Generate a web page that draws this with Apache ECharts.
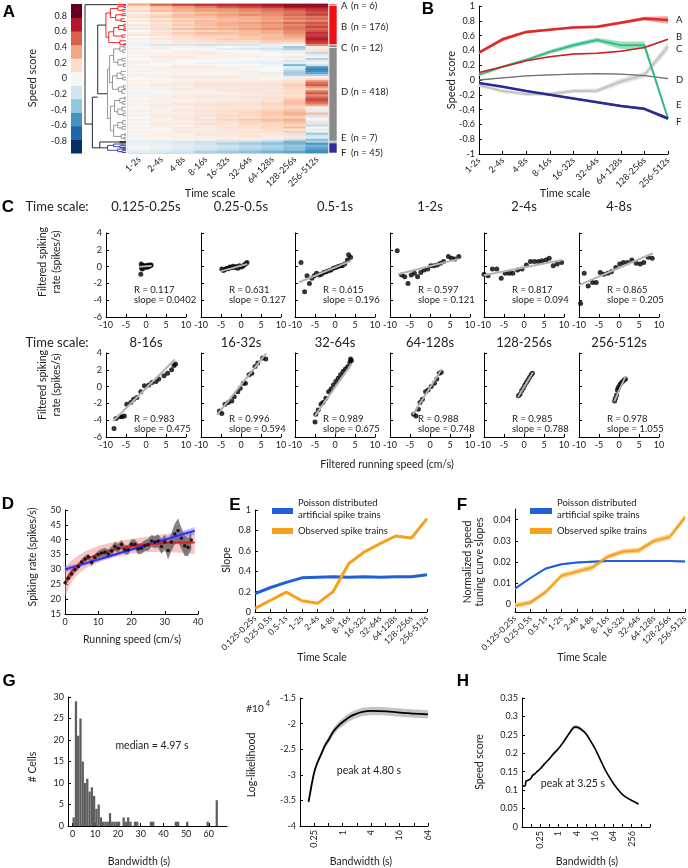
<!DOCTYPE html>
<html>
<head>
<meta charset="utf-8">
<script src="https://cdn.jsdelivr.net/npm/echarts@6/dist/echarts.min.js"></script>
<style>
html, body { margin: 0; padding: 0; background: #fff; }
#main { width: 688px; height: 868px; }
</style>
</head>
<body>
<div id="main"></div>
<script>
const FONT = 'Lato';

// ---------- data: panel A ----------
const timeScales9 = ['1-2s', '2-4s', '4-8s', '8-16s', '16-32s', '32-64s', '64-128s', '128-256s', '256-512s'];
const clusterNames = ['A', 'B', 'C', 'D', 'E', 'F'];
const clusterSizes = [6, 176, 12, 418, 7, 45];
const clusterColors = ['#ee1111', '#ee1111', '#8a8a8a', '#8a8a8a', '#22936a', '#2b2b9c'];
const cbColors = ['#053061', '#2166ac', '#4393c3', '#92c5de', '#d1e5f0', '#f7f7f7', '#fddbc7', '#f4a582', '#d6604d', '#b2182b', '#67001f'];
const cbTicks = [-0.8, -0.6, -0.4, -0.2, 0, 0.2, 0.4, 0.6, 0.8];
// heatmap rows (top to bottom), speed score per time scale
const heatValues = [
  [0.35, 0.55, 0.65, 0.7, 0.72, 0.75, 0.8, 0.85, 0.85],
  [0.15, 0.3, 0.4, 0.5, 0.6, 0.65, 0.7, 0.8, 0.8],
  [0.1, 0.25, 0.35, 0.4, 0.45, 0.5, 0.55, 0.65, 0.7],
  [0.2, 0.3, 0.35, 0.4, 0.4, 0.45, 0.5, 0.55, 0.65],
  [0.05, 0.15, 0.25, 0.3, 0.35, 0.4, 0.45, 0.5, 0.6],
  [0.1, 0.2, 0.3, 0.35, 0.4, 0.45, 0.45, 0.55, 0.65],
  [0.15, 0.25, 0.3, 0.3, 0.35, 0.35, 0.4, 0.45, 0.5],
  [0.05, 0.1, 0.2, 0.25, 0.3, 0.35, 0.4, 0.5, 0.55],
  [0.1, 0.2, 0.25, 0.3, 0.3, 0.3, 0.35, 0.4, 0.45],
  [0.0, 0.1, 0.2, 0.3, 0.35, 0.4, 0.45, 0.55, 0.6],
  [0.1, 0.15, 0.25, 0.3, 0.35, 0.35, 0.4, 0.45, 0.55],
  [0.05, 0.15, 0.2, 0.25, 0.3, 0.35, 0.4, 0.5, 0.65],
  [0.1, 0.2, 0.3, 0.35, 0.35, 0.4, 0.45, 0.5, 0.55],
  [0.0, 0.1, 0.15, 0.2, 0.25, 0.3, 0.35, 0.45, 0.6],
  [0.05, 0.15, 0.25, 0.3, 0.3, 0.3, 0.35, 0.45, 0.7],
  [0.1, 0.15, 0.2, 0.25, 0.25, 0.3, 0.3, 0.4, 0.65],
  [0.0, 0.05, 0.15, 0.2, 0.2, 0.25, 0.3, 0.35, 0.7],
  [0.05, 0.1, 0.15, 0.2, 0.25, 0.25, 0.3, 0.3, 0.75],
  [0.0, 0.05, 0.1, 0.15, 0.2, 0.2, 0.25, 0.25, 0.7],
  [0.05, 0.05, 0.1, 0.1, 0.15, 0.15, 0.2, 0.15, 0.65],
  [-0.05, -0.15, -0.15, -0.2, -0.15, -0.15, -0.05, 0.05, 0.45],
  [0.0, 0.05, 0.05, 0.05, 0.0, -0.05, -0.1, -0.35, 0.05],
  [0.05, 0.05, 0.0, 0.0, -0.1, -0.15, -0.2, -0.3, 0.1],
  [0.0, 0.0, 0.05, 0.05, 0.0, 0.0, -0.05, -0.1, 0.15],
  [0.05, 0.05, 0.05, 0.1, 0.05, 0.0, 0.0, 0.05, -0.25],
  [0.0, 0.05, 0.05, 0.05, 0.05, 0.05, 0.0, 0.0, -0.1],
  [0.05, 0.1, 0.1, 0.05, 0.05, 0.05, 0.05, 0.1, 0.05],
  [0.0, 0.05, 0.05, 0.05, 0.0, 0.0, 0.0, -0.05, -0.3],
  [0.05, 0.05, 0.0, 0.0, 0.0, -0.05, -0.05, -0.15, -0.1],
  [-0.05, 0.0, 0.0, -0.05, -0.05, -0.05, -0.1, -0.1, 0.05],
  [0.0, 0.0, 0.05, 0.05, 0.0, 0.0, -0.05, -0.45, -0.2],
  [0.05, 0.05, 0.1, 0.1, 0.05, 0.05, 0.0, -0.1, -0.55],
  [0.0, 0.05, 0.05, 0.05, 0.05, 0.0, 0.0, -0.2, -0.65],
  [0.05, 0.05, 0.05, 0.05, 0.05, 0.05, 0.0, -0.3, -0.6],
  [0.0, 0.0, 0.05, 0.0, 0.0, -0.05, -0.1, -0.35, -0.5],
  [0.05, 0.05, 0.05, 0.05, 0.05, 0.05, 0.05, -0.3, -0.3],
  [0.0, 0.05, 0.1, 0.1, 0.1, 0.05, 0.05, -0.05, 0.05],
  [0.0, 0.0, 0.05, 0.05, 0.05, 0.05, 0.0, 0.1, 0.2],
  [0.05, 0.05, 0.05, 0.1, 0.1, 0.1, 0.1, 0.15, 0.45],
  [0.0, 0.05, 0.1, 0.1, 0.1, 0.1, 0.15, 0.2, 0.55],
  [0.05, 0.1, 0.1, 0.15, 0.15, 0.15, 0.15, 0.25, 0.6],
  [0.0, 0.05, 0.05, 0.1, 0.1, 0.1, 0.1, 0.2, 0.4],
  [0.05, 0.05, 0.1, 0.1, 0.1, 0.15, 0.15, 0.2, 0.25],
  [0.0, 0.0, 0.05, 0.05, 0.1, 0.1, 0.1, 0.15, 0.5],
  [-0.05, 0.0, 0.05, 0.05, 0.05, 0.1, 0.15, 0.2, 0.6],
  [0.0, 0.05, 0.05, 0.1, 0.1, 0.1, 0.1, 0.15, 0.45],
  [0.05, 0.05, 0.1, 0.1, 0.1, 0.15, 0.15, 0.2, 0.55],
  [0.0, 0.05, 0.05, 0.05, 0.1, 0.1, 0.15, 0.25, 0.65],
  [0.05, 0.05, 0.05, 0.1, 0.1, 0.1, 0.15, 0.3, 0.6],
  [0.0, 0.05, 0.1, 0.1, 0.15, 0.15, 0.2, 0.3, 0.5],
  [0.05, 0.1, 0.1, 0.15, 0.15, 0.15, 0.2, 0.25, 0.35],
  [0.0, 0.05, 0.05, 0.1, 0.1, 0.1, 0.15, 0.2, 0.05],
  [0.05, 0.05, 0.1, 0.1, 0.15, 0.15, 0.2, 0.25, -0.1],
  [0.05, 0.05, 0.1, 0.15, 0.15, 0.2, 0.25, 0.3, 0.1],
  [0.0, 0.05, 0.05, 0.1, 0.15, 0.2, 0.25, 0.35, 0.3],
  [0.05, 0.1, 0.1, 0.15, 0.2, 0.2, 0.25, 0.3, -0.2],
  [0.0, 0.05, 0.1, 0.1, 0.15, 0.15, 0.2, 0.2, 0.1],
  [0.05, 0.05, 0.1, 0.15, 0.2, 0.25, 0.3, 0.35, 0.0],
  [0.0, 0.05, 0.05, 0.1, 0.15, 0.2, 0.25, 0.3, -0.15],
  [0.05, 0.1, 0.1, 0.15, 0.15, 0.2, 0.2, 0.25, 0.15],
  [0.0, 0.05, 0.05, 0.1, 0.1, 0.15, 0.2, 0.2, -0.25],
  [0.05, 0.05, 0.1, 0.1, 0.15, 0.15, 0.2, 0.3, 0.0],
  [0.0, 0.0, 0.05, 0.05, 0.1, 0.1, 0.15, 0.1, -0.1],
  [0.05, 0.05, 0.1, 0.1, 0.1, 0.15, 0.15, 0.25, 0.05],
  [0.0, 0.05, 0.05, 0.1, 0.1, 0.1, 0.1, -0.15, -0.35],
  [0.05, 0.05, 0.05, 0.1, 0.1, 0.15, 0.1, 0.15, -0.2],
  [0.0, 0.0, 0.05, 0.05, 0.05, 0.1, 0.05, 0.1, -0.1],
  [0.0, 0.05, 0.05, 0.05, 0.1, 0.05, -0.1, -0.2, -0.4],
  [-0.1, -0.1, -0.15, -0.2, -0.2, -0.25, -0.3, -0.45, -0.3],
  [-0.05, -0.1, -0.15, -0.2, -0.3, -0.35, -0.4, -0.45, -0.55],
  [-0.05, -0.05, -0.1, -0.15, -0.2, -0.25, -0.3, -0.35, -0.45],
  [0.0, -0.05, -0.1, -0.15, -0.2, -0.25, -0.3, -0.4, -0.5],
  [-0.05, -0.1, -0.15, -0.2, -0.25, -0.3, -0.35, -0.4, -0.55],
  [-0.1, -0.15, -0.2, -0.3, -0.35, -0.4, -0.45, -0.5, -0.6]
];
// dendrogram links: [rowTop, distTop, rowBottom, distBottom, distNode, colour]
const dendroLinks = [
  [3, 0.2, 535, 0.82, 1.0, 'k'], [415, 0.69, 641, 0.64, 0.82, 'k'],
  [94, 0.49, 400, 0.45, 0.69, 'k'], [615, 0.15, 641, 0.45, 0.64, 'k'], [612.5, 0, 617.5, 0, 0.15, 'k'],
  [1.5, 0, 4.5, 0, 0.2, 'r'],
  [40, 0.38, 148, 0.42, 0.49, 'r'], [20, 0.2, 60, 0.25, 0.38, 'r'], [124, 0.3, 172, 0.15, 0.42, 'r'],
  [12, 0.05, 28, 0.08, 0.2, 'r'], [48, 0.1, 72, 0.12, 0.25, 'r'], [105, 0.18, 143, 0.1, 0.3, 'r'],
  [164, 0, 180, 0.04, 0.15, 'r'], [8, 0, 16, 0, 0.05, 'r'], [24, 0, 32, 0.02, 0.08, 'r'],
  [44, 0, 52, 0, 0.1, 'r'], [66, 0.03, 78, 0, 0.12, 'r'], [96, 0.05, 114, 0.06, 0.18, 'r'],
  [138, 0, 148, 0.02, 0.1, 'r'], [90, 0, 102, 0, 0.05, 'r'], [110, 0, 118, 0, 0.06, 'r'], [177, 0, 181, 0, 0.04, 'r'],
  [290, 0.4, 510, 0.38, 0.45, 'g'], [230, 0.3, 350, 0.33, 0.4, 'g'], [455, 0.28, 565, 0.3, 0.38, 'g'],
  [200, 0.15, 260, 0.2, 0.3, 'g'], [320, 0.22, 380, 0.18, 0.33, 'g'], [430, 0.15, 480, 0.2, 0.28, 'g'],
  [540, 0.2, 590, 0.12, 0.3, 'g'], [190, 0.05, 210, 0.08, 0.15, 'g'], [248, 0.1, 272, 0.06, 0.2, 'g'],
  [308, 0.12, 332, 0.08, 0.22, 'g'], [370, 0.06, 390, 0.1, 0.18, 'g'], [420, 0.04, 440, 0.08, 0.15, 'g'],
  [468, 0.1, 492, 0.07, 0.2, 'g'], [528, 0.08, 552, 0.1, 0.2, 'g'], [582, 0.03, 598, 0.05, 0.12, 'g'],
  [184, 0, 196, 0, 0.05, 'g'], [204, 0, 216, 0.02, 0.08, 'g'], [242, 0, 254, 0, 0.1, 'g'], [266, 0, 278, 0, 0.06, 'g'],
  [300, 0, 316, 0.03, 0.12, 'g'], [326, 0, 338, 0, 0.08, 'g'], [364, 0, 376, 0, 0.06, 'g'], [382, 0, 398, 0.02, 0.1, 'g'],
  [416, 0, 424, 0, 0.04, 'g'], [434, 0, 446, 0, 0.08, 'g'], [460, 0, 476, 0, 0.1, 'g'], [486, 0, 498, 0, 0.07, 'g'],
  [520, 0, 536, 0, 0.08, 'g'], [546, 0, 558, 0, 0.1, 'g'], [578, 0, 586, 0, 0.03, 'g'], [594, 0, 602, 0, 0.05, 'g'],
  [630, 0.3, 652, 0.2, 0.45, 'b'], [624, 0.1, 636, 0.15, 0.3, 'b'], [646, 0.08, 658, 0.1, 0.2, 'b'],
  [620, 0, 628, 0, 0.1, 'b'], [632, 0, 640, 0, 0.15, 'b'], [643, 0, 649, 0, 0.08, 'b'], [654, 0, 662, 0, 0.1, 'b']
];
const dendroColors = { k: '#111', r: '#ee1111', g: '#8a8a8a', b: '#2b2b9c' };

// ---------- data: panel B (cluster mean speed scores) ----------
const bMeans = [
  [0.37, 0.55, 0.65, 0.68, 0.71, 0.72, 0.775, 0.83, 0.81],
  [0.10, 0.18, 0.26, 0.315, 0.35, 0.36, 0.39, 0.44, 0.55],
  [-0.07, -0.15, -0.19, -0.19, -0.15, -0.145, -0.02, 0.07, 0.45],
  [0.0, 0.03, 0.055, 0.07, 0.08, 0.085, 0.08, 0.06, 0.02],
  [0.07, 0.18, 0.27, 0.38, 0.47, 0.54, 0.47, 0.47, -0.52],
  [-0.04, -0.09, -0.15, -0.2, -0.25, -0.3, -0.35, -0.39, -0.52]
];
const bErr = [
  [0.02, 0.025, 0.02, 0.015, 0.015, 0.02, 0.02, 0.025, 0.05],
  [0.008, 0.008, 0.008, 0.008, 0.008, 0.008, 0.008, 0.01, 0.012],
  [0.02, 0.025, 0.025, 0.025, 0.03, 0.03, 0.04, 0.04, 0.06],
  [0.005, 0.005, 0.005, 0.005, 0.005, 0.005, 0.005, 0.005, 0.006],
  [0.01, 0.015, 0.02, 0.03, 0.03, 0.03, 0.05, 0.05, 0.03],
  [0.01, 0.01, 0.01, 0.012, 0.012, 0.015, 0.015, 0.02, 0.025]
];
const bLineColors = ['#e02a2a', '#d41c1c', '#c4c4c4', '#707070', '#36bb86', '#2a2a92'];
const bBandColors = ['#f3a3a3', '#f0b0b0', '#e4e4e4', '#bbbbbb', '#9fe0c4', '#8a8ad0'];
const bWidths = [2.5, 1.5, 2, 1.3, 2, 2.5];

// ---------- data: panel C ----------
const cTitles = ['0.125-0.25s', '0.25-0.5s', '0.5-1s', '1-2s', '2-4s', '4-8s',
  '8-16s', '16-32s', '32-64s', '64-128s', '128-256s', '256-512s'];
const cR = ['0.117', '0.631', '0.615', '0.597', '0.817', '0.865', '0.983', '0.996', '0.989', '0.988', '0.985', '0.978'];
const cSlopes = [0.0402, 0.127, 0.196, 0.121, 0.094, 0.205, 0.475, 0.594, 0.675, 0.748, 0.788, 1.055];
const cSlopeText = ['0.0402', '0.127', '0.196', '0.121', '0.094', '0.205', '0.475', '0.594', '0.675', '0.748', '0.788', '1.055'];
const cIntercepts = [0.05, 0.1, -0.1, 0.05, -0.1, -0.15, -0.2, 0.2, -0.1, -0.1, -0.05, -0.5];
const cLineRange = [[-1.5, 1.4], [-5, 1.6], [-9, 4], [-8, 7.2], [-10, 9.5], [-10, 8.5],
  [-8.2, 7.2], [-6, 6.3], [-5, 4.2], [-4.3, 2.9], [-1.5, 2.2], [-1.2, 1.6]];
const cPoints = [
  [[-1.3, -0.9], [-1.2, 0.3], [-1.0, 0.15], [-0.9, -0.3], [-0.7, 0.1], [-0.5, 0.0], [-0.3, 0.1], [-0.1, -0.1], [0.1, 0.05], [0.3, 0.15], [0.5, -0.05], [0.7, 0.0], [0.9, 0.2], [1.1, 0.1], [1.3, 0.2], [-1.1, -0.2]],
  [[-4.8, -0.3], [-4.4, -0.45], [-4.0, -0.35], [-3.6, -0.2], [-3.2, -0.25], [-2.8, -0.05], [-2.4, -0.15], [-2.0, 0.05], [-1.6, -0.1], [-1.2, 0.0], [-0.8, -0.2], [-0.4, 0.1], [0.0, -0.05], [0.4, 0.05], [0.8, 0.2], [1.2, 0.35], [1.5, 0.5]],
  [[-8.5, 0.5], [-7.6, -3.0], [-7.0, -1.1], [-6.4, -2.0], [-5.8, -1.4], [-5.2, -1.1], [-4.6, -0.8], [-4.0, -1.0], [-3.4, -0.9], [-2.8, -0.7], [-2.2, -0.6], [-1.6, -0.5], [-1.0, -0.4], [-0.4, -0.2], [0.2, -0.1], [0.8, 0.0], [1.4, 0.1], [1.8, 0.1], [2.4, 0.3], [3.1, 0.8], [3.4, 1.4], [3.9, 1.1]],
  [[-8.2, 1.9], [-7.1, -1.0], [-6.3, -1.2], [-5.5, -2.0], [-4.7, -1.0], [-3.9, -0.8], [-3.1, -1.2], [-2.3, -0.7], [-1.5, -0.4], [-0.6, -0.3], [0.2, 0.1], [1.0, 0.1], [1.8, 0.2], [2.6, 0.4], [3.4, 0.6], [4.6, 1.2], [5.4, 1.0], [6.2, 0.9], [7.2, 1.2]],
  [[-10, -0.9], [-9, -1.1], [-7.9, -0.3], [-6.8, -0.3], [-5.7, -1.4], [-4.7, -0.8], [-3.7, -0.8], [-2.8, -0.8], [-1.6, -0.4], [-0.5, -0.3], [0.6, 0.2], [1.6, 0.6], [2.6, 0.6], [3.6, 0.6], [4.5, 0.7], [5.5, 0.8], [6.3, 1.0], [7.3, 0.1], [8.3, 0.3], [9.4, 0.5]],
  [[-9.6, -4.4], [-8.7, -0.8], [-7.7, -2.3], [-6.6, -1.9], [-5.7, -1.9], [-4.7, -0.7], [-3.8, -0.9], [-2.8, -0.8], [-1.9, -0.6], [-0.8, -0.1], [0.2, 0.3], [1.1, 0.5], [2.1, 0.5], [3.2, 0.8], [4.3, 0.4], [5.3, 0.3], [6.2, 0.5], [7.3, 1.1], [8.3, 1.0]],
  [[-8, -5.0], [-7.5, -3.8], [-6.6, -3.6], [-6, -3.6], [-5.4, -3.5], [-4.8, -2.1], [-3.8, -1.9], [-3.1, -1.5], [-2.3, -1.3], [-1.3, -0.6], [-0.4, 0.1], [0.7, 0.2], [1.5, 0.5], [2.5, 0.6], [3.2, 0.9], [4.5, 1.3], [5.4, 1.6], [6.4, 2.0], [7.0, 2.5], [7.4, 2.7]],
  [[-5.4, -2.9], [-4.8, -3.2], [-4, -2.1], [-3.2, -1.9], [-2.3, -1.7], [-1.7, -1.2], [-0.8, -0.6], [-0.2, -0.2], [0.6, 0.4], [1.1, 0.4], [2, 1.4], [2.7, 1.6], [3.5, 2.4], [4.2, 2.8], [5.4, 3.4], [6.2, 3.3]],
  [[-5, -4.2], [-4.8, -3.3], [-4.2, -2.8], [-3.5, -2.1], [-3, -1.9], [-2.3, -1.4], [-1.6, -0.6], [-1, -0.3], [-0.4, 0.2], [0.2, 0.6], [0.8, 1.0], [1.4, 1.4], [2, 1.8], [2.6, 2.1], [3.2, 2.4], [3.7, 2.9], [3.9, 3.3], [4.1, 3.1]],
  [[-4.1, -3.3], [-3.5, -3.5], [-2.9, -2.7], [-2.5, -1.9], [-1.9, -1.5], [-1.1, -0.6], [-0.5, -0.4], [0.3, 0.0], [1.1, 0.4], [1.7, 0.9], [2.3, 1.6], [2.8, 1.7]],
  [[-1.4, -1.1], [-1.0, -0.9], [-0.6, -0.5], [-0.2, -0.2], [0.2, 0.2], [0.6, 0.5], [1.0, 0.8], [1.4, 1.1], [1.8, 1.4], [2.1, 1.6]],
  [[-1.1, -1.7], [-0.9, -1.4], [-0.6, -1.0], [-0.4, -0.4], [-0.2, -0.1], [0.2, 0.2], [0.5, 0.4], [0.9, 0.6], [1.3, 0.8], [1.6, 0.9]]
];

// ---------- data: panel D ----------
const dSpeed = [0, 1, 2, 3, 4, 5, 6, 7, 8, 9, 10, 11, 12, 13, 14, 15, 16, 17, 18, 19, 20, 21, 22, 23, 24, 25, 26, 27, 28, 29, 30, 31, 32, 33, 34, 35, 36, 37, 38];
const dRate = [25.5, 27, 28.5, 30, 31, 32.5, 33.5, 34.3, 32.3, 34, 35, 35.5, 35.8, 35.2, 36.2, 37.7, 37.1, 38.4, 36.6, 36.6, 38.5, 38.5, 36.9, 37.1, 38, 38.3, 39.6, 39.2, 39.6, 37.7, 39.2, 36.4, 39.2, 41.9, 43.1, 40.5, 38, 37.5, 39.9];
const dSem = [1, 1, 1, 1, 1, 1, 1, 1, 1.2, 1.2, 1.3, 1.4, 1.4, 1.5, 1.5, 1.5, 1.5, 1.5, 1.6, 1.6, 1.6, 1.6, 1.8, 1.8, 1.8, 2, 2, 2, 2.2, 2.5, 2.5, 3, 3, 3.5, 4, 3.5, 3.5, 3, 3];
const dFitX = [0, 1, 2, 3, 4, 5, 6, 8, 10, 12, 15, 20, 25, 30, 35, 39];
const dLogFit = [25.5, 27.8, 29.4, 30.6, 31.6, 32.4, 33.1, 34.2, 35.1, 35.8, 36.7, 37.8, 38.5, 38.9, 39.1, 39.1];
const dLogErr = [5, 4.2, 3.6, 3.3, 3.1, 3, 2.9, 2.8, 2.8, 2.7, 2.6, 2.5, 2.6, 3, 3.5, 4];
const dLinFit = [30, 30.3, 30.7, 31, 31.3, 31.7, 32, 32.7, 33.3, 34, 35, 36.7, 38.3, 40, 41.7, 43];
const dLinErr = [1, 0.95, 0.9, 0.85, 0.8, 0.8, 0.75, 0.7, 0.65, 0.6, 0.6, 0.6, 0.7, 0.9, 1.1, 1.3];

// ---------- data: panels E, F ----------
const timeScales12 = ['0.125-0.25s', '0.25-0.5s', '0.5-1s', '1-2s', '2-4s', '4-8s', '8-16s', '16-32s', '32-64s', '64-128s', '128-256s', '256-512s'];
const eSlopePoisson = [0.18, 0.24, 0.29, 0.335, 0.34, 0.345, 0.34, 0.345, 0.34, 0.345, 0.345, 0.365];
const eSlopeObserved = [0.035, 0.115, 0.195, 0.11, 0.085, 0.2, 0.475, 0.59, 0.67, 0.745, 0.725, 0.915];
const fNormPoisson = [0.0075, 0.0125, 0.017, 0.019, 0.0198, 0.0202, 0.0205, 0.0205, 0.0205, 0.0205, 0.0205, 0.0203];
const fNormObserved = [-0.0005, 0.001, 0.006, 0.0135, 0.0155, 0.0175, 0.0225, 0.025, 0.0255, 0.03, 0.0318, 0.041];
const fErrPoisson = [0.0005, 0.0005, 0.0005, 0.0005, 0.0005, 0.0005, 0.0005, 0.0005, 0.0005, 0.0005, 0.0005, 0.0005];
const fErrObserved = [0.0012, 0.0012, 0.0012, 0.0012, 0.0012, 0.0012, 0.0012, 0.0012, 0.0012, 0.0012, 0.0013, 0.0015];

// ---------- data: panel G ----------
const gBinCounts = [2, 29, 21, 25, 15, 10, 11, 8, 9, 7, 4, 5, 2, 1, 1, 1, 3, 1, 1, 1, 1, 0, 2, 1, 2, 1, 0, 1, 1, 0,
  0, 0, 0, 0, 1, 1, 0, 0, 0, 0, 0, 0, 0, 0, 0, 1, 1, 0, 0, 0, 1, 0, 0, 0, 0, 0, 0, 0, 0, 1, 0, 0, 0, 6];
const llBandwidth = [0.19, 0.22, 0.25, 0.29, 0.35, 0.42, 0.5, 0.63, 0.8, 1, 1.3, 1.7, 2.6, 4.2, 8.5, 19, 64];
const llValue = [-3.53, -3.2, -2.95, -2.77, -2.6, -2.43, -2.32, -2.16, -2.05, -1.97, -1.89, -1.83, -1.77, -1.75, -1.76, -1.79, -1.82];
const llErr = [0.05, 0.05, 0.05, 0.05, 0.05, 0.06, 0.06, 0.07, 0.07, 0.08, 0.08, 0.08, 0.08, 0.08, 0.08, 0.08, 0.08];

// ---------- data: panel H ----------
const hBandwidth = [0.0625, 0.07, 0.08, 0.085, 0.1, 0.12, 0.14, 0.17, 0.2, 0.25, 0.35, 0.5, 0.7, 1, 1.4, 2, 2.8, 3.25, 4, 5.6, 8, 11, 16, 23, 32, 45, 64, 90, 128, 180, 256, 360, 430];
const hScore = [0.11, 0.111, 0.112, 0.125, 0.127, 0.131, 0.14, 0.145, 0.151, 0.158, 0.172, 0.185, 0.2, 0.213, 0.229, 0.248, 0.265, 0.271, 0.271, 0.265, 0.253, 0.235, 0.212, 0.185, 0.16, 0.138, 0.118, 0.102, 0.088, 0.079, 0.072, 0.066, 0.062];
const hErr = [0.002, 0.002, 0.002, 0.002, 0.002, 0.002, 0.002, 0.002, 0.002, 0.003, 0.003, 0.003, 0.004, 0.004, 0.004, 0.005, 0.005, 0.005, 0.005, 0.005, 0.004, 0.004, 0.003, 0.003, 0.002, 0.002, 0.002, 0.002, 0.002, 0.002, 0.002, 0.002, 0.002];

// ================= build =================
const grids = [], xAxes = [], yAxes = [], series = [], graphics = [];

function addGrid(l, t, w, h, border) {
  grids.push({ left: l, top: t, width: w, height: h, containLabel: false, outerBoundsMode: 'none',
    show: !!border, borderColor: border || 'transparent', borderWidth: border ? 1 : 0, backgroundColor: 'transparent' });
  return grids.length - 1;
}
function axisCfg(type, gi, o) {
  o = o || {};
  const a = {
    type: type, gridIndex: gi, show: o.show !== false,
    axisLine: { show: o.line !== false, onZero: false, lineStyle: { color: '#000', width: 1 } },
    axisTick: { show: o.tick !== false, inside: true, length: 3, lineStyle: { color: '#000', width: 1 } },
    axisLabel: { show: o.label !== false, fontSize: o.fontSize || 9, color: '#222', fontFamily: FONT,
      margin: o.margin == null ? 4 : o.margin, rotate: o.rotate || 0, showMinLabel: true, showMaxLabel: true },
    splitLine: { show: false }
  };
  if (type === 'category') {
    a.data = o.data; a.boundaryGap = o.boundaryGap !== false;
    a.axisLabel.interval = 0; a.axisTick.interval = 0;
  } else {
    a.min = o.min; a.max = o.max;
    if (o.interval != null) a.interval = o.interval;
  }
  if (o.ticks) { a.axisTick.customValues = o.ticks; a.axisLabel.customValues = o.labels || o.ticks; }
  if (o.fmt) a.axisLabel.formatter = o.fmt;
  if (o.inverse) a.inverse = true;
  return a;
}
function addAxes(gi, xo, yo) {
  xAxes.push(axisCfg(xo.type || 'value', gi, xo));
  yAxes.push(axisCfg(yo.type || 'value', gi, yo));
  return xAxes.length - 1;
}
function band(ai, xs, lo, hi, color, z) {
  series.push({
    type: 'custom', xAxisIndex: ai, yAxisIndex: ai, z: z || 1, silent: true,
    data: [[xs[0], lo[0]]],
    renderItem: function (params, api) {
      const pts = [];
      for (let i = 0; i < xs.length; i++) pts.push(api.coord([xs[i], hi[i]]));
      for (let i = xs.length - 1; i >= 0; i--) pts.push(api.coord([xs[i], lo[i]]));
      return { type: 'polygon', shape: { points: pts }, style: { fill: color } };
    }
  });
}
function line(ai, xs, ys, color, width, extra) {
  const s = Object.assign({
    type: 'line', xAxisIndex: ai, yAxisIndex: ai, z: 3, silent: true, showSymbol: false, symbol: 'none',
    data: xs.map((x, i) => [x, ys[i]]), lineStyle: { color: color, width: width }, itemStyle: { color: color }
  }, extra || {});
  series.push(s);
}
function txt(x, y, s, o) {
  o = o || {};
  graphics.push({ type: 'text', x: x, y: y, rotation: o.rot || 0, z: 100, silent: true,
    style: { text: s, fontSize: o.size || 10.5, fontFamily: o.font || FONT, fontWeight: o.bold ? 'bold' : 'normal',
      fill: o.color || '#222', align: o.align || 'center', verticalAlign: 'middle', lineHeight: o.lh || undefined } });
}
function rectG(x, y, w, h, color) {
  graphics.push({ type: 'rect', z: 100, silent: true, shape: { x: x, y: y, width: w, height: h }, style: { fill: color } });
}
const log2 = v => Math.log2(v);
const nRows = clusterSizes.reduce((a, b) => a + b, 0);
const cbEdges = cbColors.map((c, i) => -0.95 + i * 1.9 / cbColors.length).concat([0.95]);

// ---- panel A: colour bar ----
let ai = addAxes(addGrid(71, 4, 11, 149), { min: 0, max: 1, show: false },
  { min: -0.95, max: 0.95, line: false, tick: false, ticks: cbTicks, margin: 4,
    fmt: v => (Math.abs(v) < 1e-9 ? '0' : (+v).toFixed(1)) });
series.push({
  type: 'custom', xAxisIndex: ai, yAxisIndex: ai, silent: true,
  data: cbColors.map((c, i) => [i]),
  renderItem: function (params, api) {
    const i = api.value(0);
    const p1 = api.coord([0, cbEdges[i + 1]]), p2 = api.coord([1, cbEdges[i]]);
    return { type: 'rect', shape: { x: p1[0], y: p1[1], width: p2[0] - p1[0], height: p2[1] - p1[1] + 0.5 }, style: { fill: cbColors[i] } };
  }
});

// ---- panel A: dendrogram ----
ai = addAxes(addGrid(85, 4, 41, 149), { min: 0, max: 1, inverse: true, show: false },
  { min: 0, max: nRows, inverse: true, show: false });
series.push({
  type: 'custom', xAxisIndex: ai, yAxisIndex: ai, silent: true,
  data: dendroLinks.map((l, i) => [i]),
  renderItem: function (params, api) {
    const l = dendroLinks[api.value(0)];
    const pts = [api.coord([l[1], l[0]]), api.coord([l[4], l[0]]), api.coord([l[4], l[2]]), api.coord([l[3], l[2]])];
    return { type: 'polyline', shape: { points: pts }, style: { stroke: dendroColors[l[5]], lineWidth: 0.9, fill: null } };
  }
});

// ---- panel A: heatmap ----
const heatGrid = addGrid(128, 4, 200, 149, '#b5b5b5');
ai = addAxes(heatGrid,
  { type: 'category', data: timeScales9, line: false, tick: false, rotate: 45, margin: 5 },
  { type: 'category', data: heatValues.map((r, i) => String(i)), inverse: true, show: false });
const heatSeriesIndex = series.length;
const heatData = [];
heatValues.forEach((row, r) => row.forEach((v, c) => heatData.push([c, r, v])));
series.push({ type: 'heatmap', xAxisIndex: ai, yAxisIndex: ai, data: heatData, silent: true, itemStyle: { borderWidth: 0 } });

// ---- panel A: cluster bar + labels ----
const clusterStart = clusterSizes.map((s, i) => clusterSizes.slice(0, i).reduce((a, b) => a + b, 0));
const labelNudge = [1.5, 2, 2, -2, -4, 5];
ai = addAxes(addGrid(329, 4, 8, 149), { min: 0, max: 1, show: false },
  { min: 0, max: nRows, inverse: true, show: false });
series.push({
  type: 'custom', xAxisIndex: ai, yAxisIndex: ai, silent: true,
  data: clusterSizes.map((s, i) => [i]),
  renderItem: function (params, api) {
    const i = api.value(0);
    const p1 = api.coord([0, clusterStart[i]]), p2 = api.coord([1, clusterStart[i] + clusterSizes[i]]);
    const yc = (p1[1] + p2[1]) / 2 + labelNudge[i];
    return { type: 'group', children: [
      { type: 'rect', shape: { x: p1[0], y: p1[1], width: p2[0] - p1[0], height: p2[1] - p1[1] },
        style: { fill: clusterColors[i], stroke: '#fff', lineWidth: 0.6 } },
      { type: 'text', x: p2[0] + 4, y: yc, style: { text: clusterNames[i], fontSize: 9.5, fontFamily: FONT, fill: '#222', verticalAlign: 'middle' } },
      { type: 'text', x: p2[0] + 14, y: yc, style: { text: '(n = ' + clusterSizes[i] + ')', fontSize: 9.5, fontFamily: FONT, fill: '#222', verticalAlign: 'middle' } }
    ] };
  }
});

// ---- panel B ----
ai = addAxes(addGrid(479, 6, 189, 148),
  { type: 'category', data: timeScales9, boundaryGap: false, rotate: 45, margin: 5 },
  { min: -1, max: 1, interval: 0.2 });
const bEndNudge = [0, -2, 2, 1, -14, 3];
bMeans.forEach((m, k) => {
  const idx = m.map((v, i) => i);
  band(ai, idx, m.map((v, i) => v - bErr[k][i]), m.map((v, i) => v + bErr[k][i]), bBandColors[k], 1);
});
bMeans.forEach((m, k) => {
  const idx = m.map((v, i) => i);
  line(ai, idx, m, bLineColors[k], bWidths[k], {
    z: 3 + (k === 1 ? 1 : 0),
    endLabel: { show: true, formatter: clusterNames[k], color: '#222', fontSize: 9.5, fontFamily: FONT, distance: 8, offset: [0, bEndNudge[k]] }
  });
});

// ---- panel C ----
const cLefts = [106, 201, 295, 390, 484, 579];
const cTops = [233, 353];
cTitles.forEach((t, k) => {
  const row = Math.floor(k / 6), col = k % 6;
  const gl = cLefts[col], gt = cTops[row];
  const a = addAxes(addGrid(gl, gt, 80, 84),
    { min: -10, max: 10, interval: 5 },
    { min: -6, max: 4, interval: 2, label: col === 0 });
  const xr = cLineRange[k];
  line(a, xr, xr.map(x => cSlopes[k] * x + cIntercepts[k]), '#b4b4b4', 2, { z: 5 });
  series.push({ type: 'scatter', xAxisIndex: a, yAxisIndex: a, z: 4, silent: true, symbolSize: 5,
    itemStyle: { color: '#000' }, data: cPoints[k] });
  txt(gl + 40, row === 0 ? 207 : 343, t, { size: 13 });
  const ry = row === 0 ? 290 : 419;
  txt(gl + 28, ry, 'R = ' + cR[k], { size: 9.5, align: 'left' });
  txt(gl + 28, ry + 9.5, 'slope = ' + cSlopeText[k], { size: 9.5, align: 'left' });
});

// ---- panel D ----
ai = addAxes(addGrid(65, 510, 133, 104), { min: 0, max: 40, interval: 10 }, { min: 15, max: 50, interval: 5 });
band(ai, dFitX, dLogFit.map((v, i) => v - dLogErr[i]), dLogFit.map((v, i) => v + dLogErr[i]), 'rgba(240,150,150,0.55)', 1);
band(ai, dSpeed, dRate.map((v, i) => v - dSem[i]), dRate.map((v, i) => v + dSem[i]), 'rgba(90,90,90,0.75)', 2);
band(ai, dFitX, dLinFit.map((v, i) => v - dLinErr[i]), dLinFit.map((v, i) => v + dLinErr[i]), 'rgba(110,110,255,0.45)', 2);
line(ai, dFitX, dLinFit, '#2f2fee', 2, { z: 4 });
line(ai, dFitX, dLogFit, '#d81e1e', 2, { z: 5, smooth: true });
series.push({ type: 'scatter', xAxisIndex: ai, yAxisIndex: ai, z: 6, silent: true, symbolSize: 3.5,
  itemStyle: { color: '#000' }, data: dSpeed.map((x, i) => [x, dRate[i]]) });

// ---- panel E ----
const idx12 = timeScales12.map((t, i) => i);
ai = addAxes(addGrid(255, 510, 172, 102),
  { type: 'category', data: timeScales12, boundaryGap: false, rotate: 45, margin: 5, fontSize: 8.5 },
  { min: 0, max: 1, interval: 0.2 });
line(ai, idx12, eSlopePoisson, '#1f5fd9', 3);
line(ai, idx12, eSlopeObserved, '#f5a11c', 3, { z: 4 });

// ---- panel F ----
ai = addAxes(addGrid(515, 509, 170, 103),
  { type: 'category', data: timeScales12, boundaryGap: false, rotate: 45, margin: 5, fontSize: 8.5 },
  { min: -0.0035, max: 0.045, ticks: [0, 0.01, 0.02, 0.03, 0.04] });
band(ai, idx12, fNormPoisson.map((v, i) => v - fErrPoisson[i]), fNormPoisson.map((v, i) => v + fErrPoisson[i]), '#9fb8ee', 1);
band(ai, idx12, fNormObserved.map((v, i) => v - fErrObserved[i]), fNormObserved.map((v, i) => v + fErrObserved[i]), '#f8cf8e', 1);
line(ai, idx12, fNormPoisson, '#1f5fd9', 2);
line(ai, idx12, fNormObserved, '#f5a11c', 2, { z: 4 });

// ---- panel G: histogram ----
ai = addAxes(addGrid(68, 697, 159, 129), { min: -2, max: 68, ticks: [0, 10, 20, 30, 40, 50, 60] },
  { min: 0, max: 30, interval: 5 });
series.push({
  type: 'custom', xAxisIndex: ai, yAxisIndex: ai, silent: true,
  data: gBinCounts.map((c, i) => [i, c]),
  renderItem: function (params, api) {
    const b = api.value(0), c = api.value(1);
    if (!c) return null;
    const p1 = api.coord([b, c]), p2 = api.coord([b + 1, 0]);
    return { type: 'rect', shape: { x: p1[0], y: p1[1], width: p2[0] - p1[0], height: p2[1] - p1[1] }, style: { fill: '#5e5e5e' } };
  }
});

// ---- panel G: log-likelihood ----
const llLabels = { '-2': '0.25', '0': '1', '2': '4', '4': '16', '6': '64' };
ai = addAxes(addGrid(300, 698, 128, 128),
  { min: -3, max: 6, interval: 1, rotate: 90, fmt: v => llLabels[String(Math.round(v))] || '' },
  { min: -4, max: -1.5, interval: 0.5 });
band(ai, llBandwidth.map(log2), llValue.map((v, i) => v - llErr[i]), llValue.map((v, i) => v + llErr[i]), '#c4c4c4', 1);
line(ai, llBandwidth.map(log2), llValue, '#000', 1.8, { smooth: 0.3 });

// ---- panel H ----
const hLabels = { '-2': '0.25', '0': '1', '2': '4', '4': '16', '6': '64', '8': '256' };
ai = addAxes(addGrid(522, 698, 128, 129),
  { min: -4, max: 10, interval: 1, rotate: 90, fmt: v => hLabels[String(Math.round(v))] || '' },
  { min: 0, max: 0.35, interval: 0.05 });
band(ai, hBandwidth.map(log2), hScore.map((v, i) => v - hErr[i]), hScore.map((v, i) => v + hErr[i]), '#c4c4c4', 1);
line(ai, hBandwidth.map(log2), hScore, '#000', 1.6, { smooth: 0.2 });

// ---- texts ----
const letter = { size: 17, bold: true, font: 'Liberation Sans', color: '#000' };
txt(9, 12, 'A', letter); txt(428, 9, 'B', letter); txt(8, 207, 'C', letter); txt(8, 504, 'D', letter);
txt(235, 505, 'E', letter); txt(462, 505, 'F', letter); txt(9, 681, 'G', letter); txt(463, 681, 'H', letter);

txt(32, 78, 'Speed score', { rot: Math.PI / 2, size: 11 });
txt(210, 193, 'Time scale', { size: 11 });
txt(451, 80, 'Speed score', { rot: Math.PI / 2, size: 11 });
txt(565, 193, 'Time scale', { size: 11 });

txt(57, 207, 'Time scale:', { size: 13 });
txt(57, 343, 'Time scale:', { size: 13 });
txt(50, 262, 'Filtered spiking\nrate (spikes/s)', { rot: Math.PI / 2, size: 10.5, lh: 14 });
txt(50, 385, 'Filtered spiking\nrate (spikes/s)', { rot: Math.PI / 2, size: 10.5, lh: 14 });
txt(387, 465, 'Filtered running speed (cm/s)', { size: 10.5 });

txt(33, 557, 'Spiking rate (spikes/s)', { rot: Math.PI / 2, size: 10.5 });
txt(132, 640, 'Running speed (cm/s)', { size: 10.5 });

txt(227, 560, 'Slope', { rot: Math.PI / 2, size: 10.5 });
txt(322, 658, 'Time Scale', { size: 10.5 });
rectG(272, 508, 21, 6, '#1f5fd9'); rectG(272, 528, 21, 6, '#f5a11c');
txt(298, 509, 'Poisson distributed\nartificial spike trains', { size: 9.5, align: 'left', lh: 12 });
txt(298, 531, 'Observed spike trains', { size: 9.5, align: 'left' });

txt(474, 562, 'Normalized speed\ntuning curve slopes', { rot: Math.PI / 2, size: 10.5, lh: 12 });
txt(582, 658, 'Time Scale', { size: 10.5 });
rectG(530, 508, 22, 6, '#1f5fd9'); rectG(530, 528, 22, 6, '#f5a11c');
txt(557, 509, 'Poisson distributed\nartificial spike trains', { size: 9.5, align: 'left', lh: 12 });
txt(557, 531, 'Observed spike trains', { size: 9.5, align: 'left' });

txt(33, 767, '# Cells', { rot: Math.PI / 2, size: 10.5 });
txt(152, 746, 'median = 4.97 s', { size: 10.5 });
txt(139, 862, 'Bandwidth (s)', { size: 10.5 });

txt(252, 765, 'Log-likelihood', { rot: Math.PI / 2, size: 10.5 });
txt(255, 709, '#10', { size: 10 });
txt(268, 704, '4', { size: 7.5 });
txt(369, 771, 'peak at 4.80 s', { size: 10.5 });
txt(361, 862, 'Bandwidth (s)', { size: 10.5 });

txt(480, 762, 'Speed score', { rot: Math.PI / 2, size: 10.5 });
txt(573, 784, 'peak at 3.25 s', { size: 10.5 });
txt(587, 862, 'Bandwidth (s)', { size: 10.5 });

const chart = echarts.init(document.getElementById('main'), null, { renderer: 'canvas', width: 688, height: 868 });
chart.setOption({
  backgroundColor: '#fff',
  animation: false,
  textStyle: { fontFamily: FONT },
  grid: grids,
  xAxis: xAxes,
  yAxis: yAxes,
  visualMap: [{
    type: 'continuous', show: false, seriesIndex: heatSeriesIndex, dimension: 2,
    min: -0.95, max: 0.95, inRange: { color: cbColors }
  }],
  series: series,
  graphic: graphics
});
</script>
</body>
</html>
